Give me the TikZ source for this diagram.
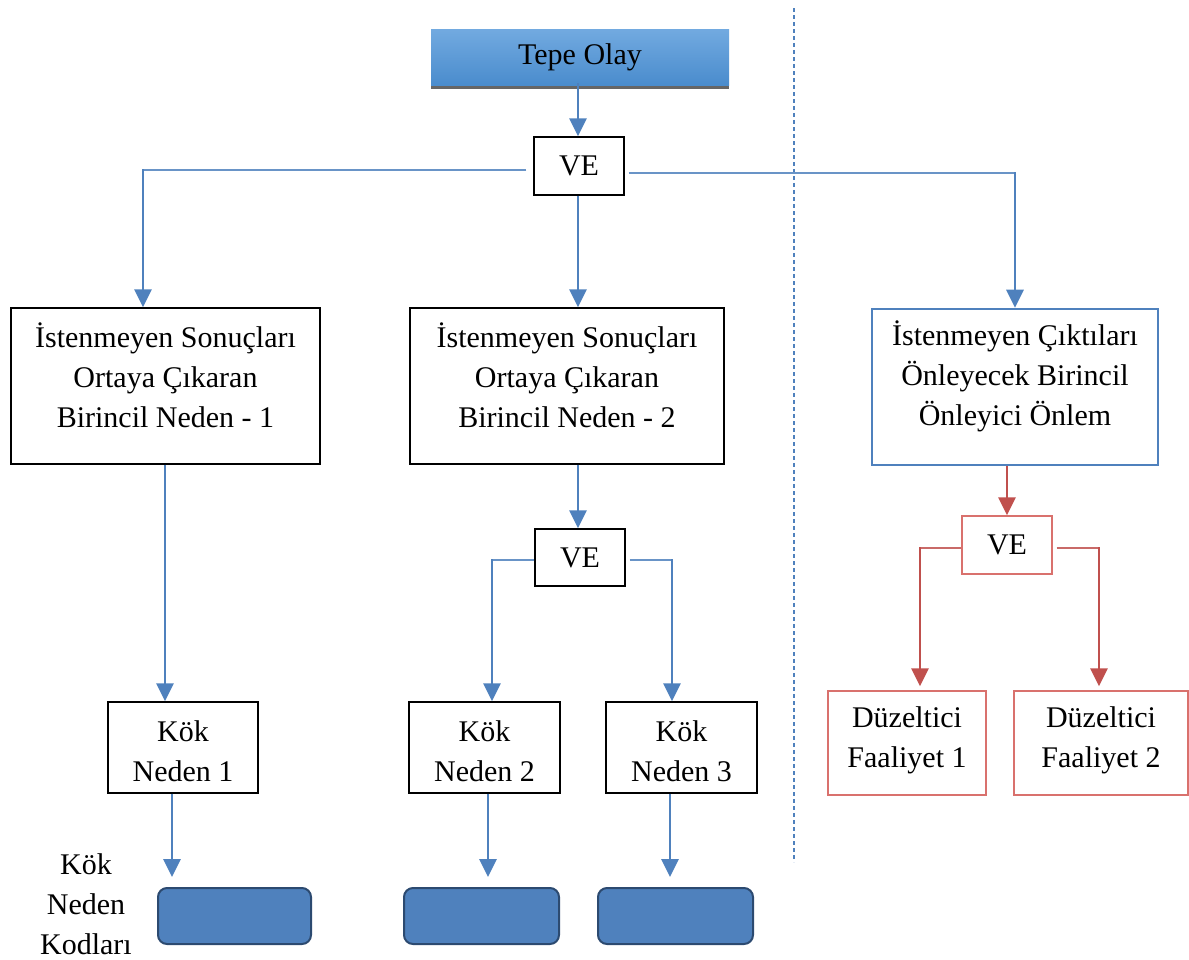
\documentclass[tikz,border=0pt]{standalone}
\usepackage{fontspec}
\setmainfont{Liberation Serif}
\usetikzlibrary{arrows.meta,calc}
\definecolor{ablue}{HTML}{4F81BD}
\definecolor{ared}{HTML}{C0504D}
\definecolor{redbox}{HTML}{D9716D}
\definecolor{gtop}{HTML}{72AAE0}
\definecolor{gbot}{HTML}{4A8CCD}
\definecolor{rbdraw}{HTML}{2C4A70}
\tikzset{
  every node/.style={font=\fontsize{30}{40}\selectfont, align=center, inner sep=0pt},
  bbox/.style={draw=black, line width=1.3pt, fill=white},
  rbox/.style={draw=redbox, line width=1.4pt, fill=white},
  bluebox/.style={draw=ablue, line width=2.6pt, fill=white},
  codebox/.style={draw=rbdraw, line width=2pt, fill=ablue, rounded corners=9pt},
  bvl/.style={draw=ablue, line width=2.9pt, -{Triangle[length=18pt,width=17pt]}},
  bhl/.style={draw=ablue!85, line width=1.9pt},
  rvl/.style={draw=ared, line width=2.9pt, -{Triangle[length=18pt,width=17pt]}},
  rhl/.style={draw=ared!85, line width=1.7pt},
}
\begin{document}
\begin{tikzpicture}[x=1pt,y=-1pt]
\useasboundingbox (0,0) rectangle (1189,959);
% dashed divider
\coordinate (dtop) at (794,8);
\coordinate (dbot) at (794,862);
\draw[ablue, line width=1.2pt, dash pattern=on 4pt off 3pt] (dtop) -- (dbot);

% Tepe Olay
\fill[black!60] (431,30) rectangle (729,89);
\node[minimum width=298, minimum height=56, top color=gtop, bottom color=gbot] (tepe) at (580,57) {Tepe Olay};

% boxes
\node[bbox, minimum width=90, minimum height=58] (ve1) at (579,166) {VE};
\node[bbox, minimum width=309, minimum height=156,
  label={[yshift=11pt, align=center]center:{İstenmeyen Sonuçları\\Ortaya Çıkaran\\Birincil Neden - 1}}] (b1) at (165.5,386) {};
\node[bbox, minimum width=314, minimum height=156,
  label={[yshift=11pt, align=center]center:{İstenmeyen Sonuçları\\Ortaya Çıkaran\\Birincil Neden - 2}}] (b2) at (567,386) {};
\node[bluebox, minimum width=286, minimum height=156,
  label={[yshift=11pt, align=center]center:{İstenmeyen Çıktıları\\Önleyecek Birincil\\Önleyici Önlem}}] (b3) at (1015,387) {};

\node[bbox, minimum width=90, minimum height=57] (ve2) at (580,557.5) {VE};
\node[rbox, minimum width=90, minimum height=58] (ve3) at (1007,545) {VE};

\node[bbox, minimum width=150, minimum height=91,
  label={[yshift=-4pt, align=center]center:{Kök\\Neden 1}}] (k1) at (183,747.5) {};
\node[bbox, minimum width=151, minimum height=91,
  label={[yshift=-4pt, align=center]center:{Kök\\Neden 2}}] (k2) at (484.5,747.5) {};
\node[bbox, minimum width=151, minimum height=91,
  label={[yshift=-4pt, align=center]center:{Kök\\Neden 3}}] (k3) at (681.5,747.5) {};

\node[rbox, minimum width=158, minimum height=104,
  label={[yshift=3pt, align=center]center:{Düzeltici\\Faaliyet 1}}] (d1) at (907,743) {};
\node[rbox, minimum width=174, minimum height=104,
  label={[yshift=3pt, align=center]center:{Düzeltici\\Faaliyet 2}}] (d2) at (1101,743) {};

\node[codebox, minimum width=153, minimum height=56] (c1) at (234.5,916) {};
\node[codebox, minimum width=155, minimum height=56] (c2) at (481.5,916) {};
\node[codebox, minimum width=155, minimum height=56] (c3) at (675.5,916) {};

\node (kod) at (86,904) {Kök\\Neden\\Kodları};

% connectors
\draw[bvl] ([xshift=-2pt,yshift=2pt]tepe.south) -- ([xshift=-1pt]ve1.north);
\draw[bhl] ([xshift=-7pt,yshift=-4pt]ve1.west) -- ([xshift=-22.5pt,yshift=-4pt]ve1.west -| b1.north);
\draw[bvl] ([xshift=-22.5pt,yshift=-3pt]ve1.west -| b1.north) -- ([xshift=-22.5pt]b1.north);
\draw[bhl] ([xshift=4pt,yshift=-7pt]ve1.east) -- ([yshift=-7pt]ve1.east -| b3.north);
\draw[bvl] ([yshift=-6pt]ve1.east -| b3.north) -- (b3.north);
\draw[bvl] ([xshift=-1pt]ve1.south) -- ([xshift=11pt]b2.north);

\draw[bvl] ([xshift=-0.5pt]b1.south) -- ([xshift=-18pt]k1.north);
\draw[bvl] ([xshift=11pt]b2.south) -- ([xshift=-2pt]ve2.north);
\draw[bhl] ([yshift=-2.5pt]ve2.west) -- ([xshift=7.5pt,yshift=-2.5pt]ve2.west -| k2.north);
\draw[bvl] ([xshift=7.5pt,yshift=-1.5pt]ve2.west -| k2.north) -- ([xshift=7.5pt]k2.north);
\draw[bhl] ([xshift=4pt,yshift=-2.5pt]ve2.east) -- ([xshift=-9.5pt,yshift=-2.5pt]ve2.east -| k3.north);
\draw[bvl] ([xshift=-9.5pt,yshift=-1.5pt]ve2.east -| k3.north) -- ([xshift=-9.5pt]k3.north);

\draw[bvl, shorten >=10pt] ([xshift=-11pt]k1.south) -- ([xshift=-62.5pt]c1.north);
\draw[bvl, shorten >=10pt] ([xshift=3.5pt]k2.south) -- ([xshift=6.5pt]c2.north);
\draw[bvl, shorten >=10pt] ([xshift=-11.5pt]k3.south) -- ([xshift=-5.5pt]c3.north);

\draw[rvl] ([xshift=-8pt]b3.south) -- (ve3.north);
\draw[rhl] ([yshift=-3pt]ve3.west) -- ([xshift=13pt,yshift=-3pt]ve3.west -| d1.north);
\draw[rvl, shorten >=4pt] ([xshift=13pt,yshift=-2pt]ve3.west -| d1.north) -- ([xshift=13pt]d1.north);
\draw[rhl] ([xshift=4pt,yshift=-3pt]ve3.east) -- ([xshift=-2pt,yshift=-3pt]ve3.east -| d2.north);
\draw[rvl, shorten >=4pt] ([xshift=-2pt,yshift=-2pt]ve3.east -| d2.north) -- ([xshift=-2pt]d2.north);
\end{tikzpicture}
\end{document}
